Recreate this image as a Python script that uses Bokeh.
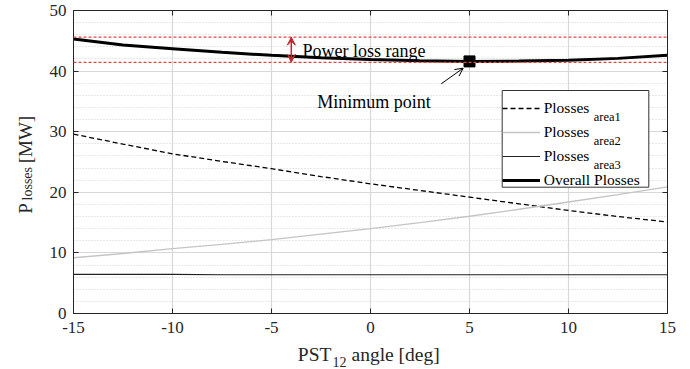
import math
from bokeh.plotting import figure
from bokeh.layouts import row, column
from bokeh.core.properties import value
from bokeh.models import (Range1d, LinearAxis, Span, Label, Arrow, VeeHead, OpenHead,
                          Legend, LegendItem, FixedTicker, SingleIntervalTicker,
                          CustomJSTickFormatter, BoxAnnotation)
from bokeh.embed import file_html
from bokeh.resources import INLINE

# ---------------- data ----------------
angle = [-15, -12.5, -10, -7.5, -5, -2.5, 0, 2.5, 5, 7.5, 10, 12.5, 15]
p_area1 = [29.6, 27.95, 26.35, 25.1, 23.9, 22.6, 21.4, 20.3, 19.2, 18.1, 17.0, 16.0, 15.1]
p_area2 = [9.2, 9.9, 10.7, 11.4, 12.2, 13.1, 14.0, 15.0, 16.05, 17.2, 18.4, 19.6, 20.9]
p_area3 = [6.45, 6.45, 6.45, 6.4, 6.4, 6.4, 6.4, 6.4, 6.4, 6.4, 6.4, 6.4, 6.4]
p_overall = [45.3, 44.3, 43.7, 43.1, 42.6, 42.2, 41.9, 41.7, 41.6, 41.65, 41.8, 42.1, 42.6]
min_angle = [5.0]
min_loss = [41.6]
range_upper = 45.6
range_lower = 41.45
x_ticks = [-15, -10, -5, 0, 5, 10, 15]
legend_labels = ["Plosses", "Plosses", "Plosses", "Overall Plosses"]
legend_subs = ["area1", "area2", "area3", ""]

FONT = '"Liberation Serif"'
AX = "#262626"
TOTAL_W, TOTAL_H = 690, 369
YL_W = 45                 # width of the y-label strip
MAIN_H = 343              # height of the main figure
XL_H = TOTAL_H - MAIN_H   # height of the x-label strip
FL, FR, FT, FB = 73, 667, 10, 313   # frame edges in page pixels


def dx(cx):
    return -15 + (cx - FL) * 30.0 / (FR - FL)


def dy(cy):
    return (FB - cy) * 50.0 / (FB - FT)


p = figure(width=TOTAL_W - YL_W, height=MAIN_H, x_range=Range1d(-15, 15),
           y_range=Range1d(0, 50), output_backend="svg", toolbar_location=None,
           min_border_left=FL - YL_W, min_border_right=TOTAL_W - FR,
           min_border_top=FT, min_border_bottom=MAIN_H - FB,
           outline_line_color=AX, outline_line_width=1,
           background_fill_color="white", border_fill_color="white")

xt = FixedTicker(ticks=x_ticks)
yt = SingleIntervalTicker(interval=10, num_minor_ticks=5)
fmt = CustomJSTickFormatter(code="return String(tick);")
blank = CustomJSTickFormatter(code="return '';")
p.xaxis.ticker = xt
p.yaxis.ticker = yt
p.xaxis.formatter = fmt
p.xgrid.ticker = xt
p.ygrid.ticker = yt

for ax in (p.xaxis[0], p.yaxis[0]):
    ax.major_tick_in = 5
    ax.major_tick_out = 0
    ax.minor_tick_in = 0
    ax.minor_tick_out = 0
    ax.axis_line_color = AX
    ax.major_tick_line_color = AX
    ax.major_label_text_font = FONT
    ax.major_label_text_font_size = "17px"
    ax.major_label_text_color = AX
p.xaxis.major_label_standoff = 8
p.yaxis.major_label_standoff = 7

top = LinearAxis(ticker=xt, formatter=blank, major_tick_in=5, major_tick_out=0,
                 minor_tick_in=0, minor_tick_out=0, major_label_text_font_size="1px",
                 major_label_standoff=0, axis_line_color=AX, major_tick_line_color=AX)
right = LinearAxis(ticker=yt, formatter=blank, major_tick_in=5, major_tick_out=0,
                   minor_tick_in=0, minor_tick_out=0, major_label_text_font_size="1px",
                   major_label_standoff=0, axis_line_color=AX, major_tick_line_color=AX)
p.add_layout(top, "above")
p.add_layout(right, "right")

p.xgrid.grid_line_color = "#d8d8d8"
p.xgrid.grid_line_width = 1.2
p.ygrid.grid_line_color = "#d8d8d8"
p.ygrid.grid_line_width = 1.2
p.ygrid.minor_grid_line_color = "#d0d0d0"
p.ygrid.minor_grid_line_dash = "1 2"
p.ygrid.minor_grid_line_width = 1

RED = "#e04848"
p.add_layout(Span(location=range_upper, dimension="width", line_color=RED,
                  line_dash="3 2", line_width=1.2))
p.add_layout(Span(location=range_lower, dimension="width", line_color=RED,
                  line_dash="3 2", line_width=1.2))

r1 = p.line(angle, p_area1, line_color="black", line_width=1.3, line_dash="5 3")
r2 = p.line(angle, p_area2, line_color="#c4c4c4", line_width=1.3)
r3 = p.line(angle, p_area3, line_color="#222222", line_width=1.1)
r4 = p.line(angle, p_overall, line_color="black", line_width=3)
p.scatter(min_angle, min_loss, marker="square", size=11, fill_color="black",
          line_color="black")

DRED = "#c0282d"
p.add_layout(Arrow(x_start=-4, y_start=range_lower, x_end=-4, y_end=range_upper,
                   line_color=DRED, line_width=1.5,
                   start=VeeHead(size=8, fill_color=DRED, line_color=DRED),
                   end=VeeHead(size=8, fill_color=DRED, line_color=DRED)))
p.add_layout(Label(x=dx(302), y=dy(50), text="Power loss range", text_font=FONT,
                   text_font_size="18px", text_color="black",
                   text_baseline="alphabetic", text_align="left"))

p.add_layout(Arrow(x_start=dx(440.7), y_start=dy(83.3), x_end=dx(462.7), y_end=dy(67.7),
                   line_color="black", line_width=1,
                   end=OpenHead(size=8, line_width=1, line_color="black")))
p.add_layout(Label(x=dx(316.7), y=dy(101), text="Minimum point", text_font=FONT,
                   text_font_size="18px", text_color="black",
                   text_baseline="alphabetic", text_align="left"))

# legend frame (white box), drawn beneath a transparent legend
BOX_L, BOX_R, BOX_T, BOX_B = 501.7, 648.3, 90.0, 186.7
p.add_layout(BoxAnnotation(left=dx(BOX_L), right=dx(BOX_R), top=dy(BOX_T),
                           bottom=dy(BOX_B), fill_color="white", fill_alpha=1,
                           line_color="#333333", line_width=1, line_alpha=1))

LEG_L, LEG_B = 501.7, 191.0
PAD, GW, STD, RH, SP = 4, 38, 4, 22, 2
leg = Legend(items=[LegendItem(label=legend_labels[i], renderers=[r])
                    for i, r in enumerate([r1, r2, r3, r4])],
             location=(LEG_L - FL, FB - LEG_B), margin=0, padding=PAD, spacing=SP,
             glyph_width=GW, glyph_height=RH, label_height=RH, label_standoff=STD,
             label_text_font=FONT, label_text_font_size="15.5px",
             label_text_color="black", border_line_color=None,
             background_fill_alpha=0)
p.add_layout(leg)

LEG_T = LEG_B - (2 * PAD + 4 * RH + 3 * SP)
for i, sub in enumerate(legend_subs):
    if not sub:
        continue
    row_c = LEG_T + PAD + RH / 2 + i * (RH + SP)
    p.add_layout(Label(x=dx(LEG_L + PAD + GW + STD + 45.6), y=dy(row_c + 12), text=sub,
                       text_font=FONT, text_font_size="12.5px", text_color="black",
                       text_baseline="alphabetic", text_align="left", level="overlay"))


def strip(w, h):
    f = figure(width=w, height=h, x_range=Range1d(0, w), y_range=Range1d(0, h),
               output_backend="svg", toolbar_location=None, title=None,
               x_axis_type=None, y_axis_type=None, min_border=0,
               min_border_left=0, min_border_right=0, min_border_top=0,
               min_border_bottom=0, outline_line_color=None,
               background_fill_color="white", border_fill_color="white")
    f.xgrid.visible = False
    f.ygrid.visible = False
    return f


# ---------------- y-label strip (y measured upward from its bottom) ----------------
YSHIFT = 15
yl = strip(YL_W, MAIN_H)
yl.text(x=[25, 25], y=[MAIN_H - 215 - YSHIFT, MAIN_H - 158 - YSHIFT], text=["P", "[MW]"],
        angle=math.pi / 2, text_font=value(FONT), text_font_size="19px",
        text_color=AX, text_baseline="alphabetic", text_align="left")
yl.text(x=[26.7], y=[MAIN_H - 200 - YSHIFT], text=["losses"], angle=math.pi / 2,
        text_font=value(FONT), text_font_size="14px", text_color=AX,
        text_baseline="alphabetic", text_align="left")

# ---------------- x-label strip ----------------
xl = strip(TOTAL_W, XL_H)
xl.text(x=[297.3, 351], y=[TOTAL_H - 354, TOTAL_H - 354], text=["PST", "angle [deg]"],
        text_font=value(FONT), text_font_size="19.5px", text_color=AX,
        text_baseline="alphabetic", text_align="left")
xl.text(x=[332], y=[TOTAL_H - 361.5], text=["12"],
        text_font=value(FONT), text_font_size="14px", text_color=AX,
        text_baseline="alphabetic", text_align="left")

layout = column(row(yl, p, spacing=0), xl, spacing=0)
open("out.html", "w").write(file_html(layout, INLINE))
